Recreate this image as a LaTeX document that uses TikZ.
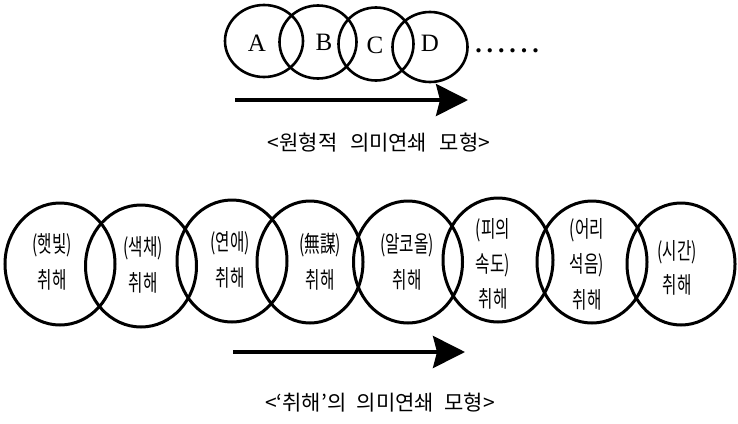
\documentclass[tikz,border=0pt]{standalone}
\usepackage{fontspec}
\setmainfont{Liberation Serif}
\newfontfamily\kr{Noto Sans CJK KR}
\usetikzlibrary{arrows.meta}
\begin{document}
\begin{tikzpicture}[x=1pt,y=-1pt,
  ring/.style={draw=black,line width=2.6pt},
  bigring/.style={draw=black,line width=3pt},
  letter/.style={font=\fontsize{25}{25}\selectfont,inner sep=0pt},
  lbl/.style={font=\kr\fontsize{23}{23}\selectfont,inner sep=0pt,xscale=0.68,transform shape},
  captext/.style={font=\kr\fontsize{21}{21}\selectfont,inner sep=0pt},
  flow/.style={line width=3.5pt,-{Stealth[length=32pt,width=32pt,inset=4pt]}}]
\useasboundingbox (0,0) rectangle (738,423);
% top model
\draw[ring] (264,41) ellipse [x radius=39,y radius=36];
\draw[ring] (318,42) ellipse [x radius=38.5,y radius=36.5];
\draw[ring] (376,44) ellipse [x radius=37.5,y radius=36.5];
\draw[ring] (430,47) ellipse [x radius=37.5,y radius=35];
\node[letter] (tA) at (257,43) {A};
\node[letter] (tB) at (324,42) {B};
\node[letter] (tC) at (375,45) {C};
\node[letter] (tD) at (430,43) {D};
\node[inner sep=0pt,font=\bfseries\fontsize{26}{26}\selectfont,anchor=base] (dots) at (507,52)
  {\makebox[11.4pt]{.}\makebox[11.4pt]{.}\makebox[11.4pt]{.}\makebox[11.4pt]{.}\makebox[11.4pt]{.}\makebox[11.4pt]{.}};
\coordinate (a1s) at (235,100);
\coordinate (a1e) at (468,100);
\draw[flow] (a1s) -- (a1e);
\node[captext] (cap1) at (379,143) {<원형적\hspace{0.6em}의미연쇄\hspace{0.6em}모형>};
% bottom model
\draw[bigring] (60,264) ellipse [x radius=55,y radius=61];
\draw[bigring] (141,266) ellipse [x radius=55.5,y radius=61];
\draw[bigring] (232,261) ellipse [x radius=55,y radius=61];
\draw[bigring] (310,262) ellipse [x radius=53,y radius=61];
\draw[bigring] (408,262) ellipse [x radius=54.5,y radius=61];
\draw[bigring] (498,260) ellipse [x radius=55,y radius=62];
\draw[bigring] (592,262) ellipse [x radius=55,y radius=61];
\draw[bigring] (681,264) ellipse [x radius=54,y radius=61];
\node[lbl] (l1a) at (52,245) {(햇빛)};
\node[lbl] (l1b) at (52,280) {취해};
\node[lbl] (l2a) at (143,248) {(색채)};
\node[lbl] (l2b) at (143,283) {취해};
\node[lbl] (l3a) at (230,243) {(연애)};
\node[lbl] (l3b) at (230,278) {취해};
\node[lbl] (l4a) at (320,245) {(無謀)};
\node[lbl] (l4b) at (320,280) {취해};
\node[lbl] (l5a) at (407,245) {(알코올)};
\node[lbl] (l5b) at (407,280) {취해};
\node[lbl] (l6a) at (493,230) {(피의};
\node[lbl] (l6b) at (493,265) {속도)};
\node[lbl] (l6c) at (493,299) {취해};
\node[lbl] (l7a) at (587,230) {(어리};
\node[lbl] (l7b) at (587,265) {석음)};
\node[lbl] (l7c) at (587,300) {취해};
\node[lbl] (l8a) at (677,252) {(시간)};
\node[lbl] (l8b) at (677,285) {취해};
\coordinate (a2s) at (233,352);
\coordinate (a2e) at (465,352);
\draw[flow] (a2s) -- (a2e);
\node[captext] (cap2) at (380,403) {<‘취해’의\hspace{0.5em}의미연쇄\hspace{0.5em}모형>};
\end{tikzpicture}
\end{document}
